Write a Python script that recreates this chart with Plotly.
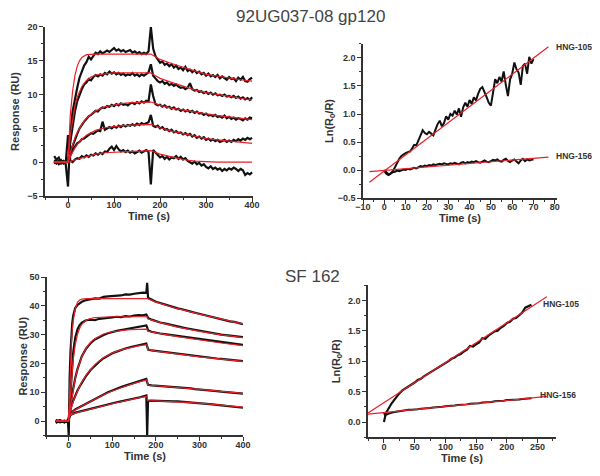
import plotly.graph_objects as go

# ---------------- Top-left: 92UG037-08 gp120 sensorgrams ----------------
T_TL = list(range(-30, 401, 5))
TL_A = [0.9, 0.4, 0.7, -0.1, 0.1, -0.3,
        -3.6,
        4.0, 7.5, 9.5, 11.0, 12.5, 13.5, 14.3, 14.8, 15.6, 15.2, 15.8, 16.2, 16.0, 16.4, 16.1, 16.3, 16.5, 16.3,
        16.6, 16.9, 16.5, 16.7, 16.4, 16.6, 16.3, 16.5, 16.6, 16.2, 16.4, 16.1, 16.3, 16.0, 16.2, 16.0, 16.4, 20.0,
        16.8, 15.7, 15.1, 14.7, 14.9, 14.4, 14.6, 14.2, 14.5, 14.0, 14.3, 13.8, 14.0, 13.6, 14.1, 13.5, 13.7, 13.3,
        13.6, 13.2, 13.4, 13.0, 13.2, 12.8, 13.1, 12.7, 12.9, 12.6, 12.9, 12.4, 12.7, 12.5, 12.2, 12.6, 12.3, 12.4,
        12.0, 12.5, 12.2, 12.6, 12.0, 11.9, 12.3, 12.5]
TL_B = [0.3, 0.0, 0.2, -0.2, 0.1, 0.0,
        0.0,
        3.0, 5.5, 7.5, 9.0, 10.0, 10.8, 11.5, 11.8, 12.3, 12.1, 12.6, 12.9, 12.7, 13.0, 12.8, 13.2, 13.0, 13.4,
        13.1, 13.3, 13.0, 13.2, 12.9, 13.1, 12.8, 13.0, 12.9, 13.2, 12.8, 13.0, 12.7, 13.0, 12.8, 13.1, 13.3, 14.5,
        12.8, 12.4, 12.0, 11.8, 12.0, 11.6, 11.8, 11.4, 11.6, 11.3, 11.5, 11.2, 11.0, 11.1, 10.8, 11.0, 11.7, 10.8,
        10.6, 10.7, 10.4, 10.5, 10.2, 10.4, 10.1, 10.3, 10.0, 10.2, 9.9, 10.0, 9.8, 10.0, 9.7, 9.8, 9.6, 9.8,
        9.5, 9.7, 9.4, 9.6, 9.3, 9.5, 9.2, 9.6]
TL_C = [-0.2, 0.1, -0.1, 0.2, -0.1, 0.1,
        0.2,
        1.5, 2.5, 3.5, 4.2, 5.0, 5.6, 6.0, 6.4, 6.8, 7.0, 7.3, 7.6, 7.5, 7.9, 8.1, 8.0, 8.3, 8.2,
        8.5, 8.3, 8.6, 8.4, 8.7, 8.5, 8.6, 8.4, 8.7, 8.8, 8.6, 8.9, 8.7, 9.0, 8.8, 9.1, 9.0, 11.5,
        9.8, 8.6, 8.4, 8.5, 8.2, 8.4, 8.1, 8.2, 7.9, 8.1, 7.8, 7.9, 7.6, 7.8, 7.5, 7.7, 7.4, 7.6,
        7.3, 7.5, 7.2, 7.3, 7.0, 7.2, 6.9, 7.0, 6.8, 7.0, 6.7, 6.8, 6.6, 6.9, 6.5, 6.7, 6.4, 6.6,
        6.3, 6.5, 6.4, 6.2, 6.5, 6.3, 6.6, 6.5]
TL_D = [0.1, -0.2, 0.0, 0.3, -0.2, 0.0,
        0.5,
        1.0, 1.8, 2.3, 2.8, 3.0, 3.4, 3.5, 3.8, 4.0, 4.3, 4.2, 4.5, 4.7, 4.6, 6.0, 4.8, 5.0, 5.2,
        5.0, 5.3, 5.1, 5.4, 5.2, 5.5, 5.3, 5.5, 5.4, 5.6, 5.4, 5.7, 5.5, 5.8, 5.6, 5.7, 5.9, 7.0,
        5.4, 5.2, 5.4, 5.0, 5.2, 4.8, 4.9, 4.6, 4.8, 4.4, 4.6, 4.3, 4.4, 4.1, 4.3, 4.0, 4.2, 3.8,
        4.0, 3.6, 3.8, 3.5, 3.7, 3.3, 3.5, 3.2, 3.4, 3.1, 3.3, 3.0, 3.2, 3.3, 3.0, 3.2, 3.0, 3.3,
        3.1, 3.4, 3.2, 3.5, 3.3, 3.6, 3.4, 3.6]
TL_E = [0.0, 0.2, -0.3, 0.0, 0.2, -0.1,
        4.0,
        0.2, 0.0, 0.4, 0.6, 0.5, 0.9, 0.7, 1.0, 0.8, 1.1, 1.0, 1.3, 1.1, 1.4, 1.2, 1.6, 1.5, 2.0,
        2.3, 1.8, 2.4, 1.9, 1.6, 1.8, 1.5, 1.7, 1.4, 1.6, 1.3, 1.5, 1.7, 1.4, 1.6, 1.8, 1.5, -3.3,
        1.8, 1.4, 1.0, 0.7, 0.9, 0.5, 0.8, 0.4, 0.7, 0.6, 0.9, 0.5, 0.8, 0.4, 0.6, 0.2, 0.0, -0.2,
        0.1, -0.3, -0.1, -0.5, -0.3, -0.7, -0.9, -0.6, -1.0, -0.8, -1.1, -0.9, -1.3, -1.0, -1.2, -0.9,
        -1.1, -0.8, -1.0, -1.3, -1.0, -1.2, -1.9, -1.6, -1.8, -1.5]

T_TL_FIT = [-30, 0, 5, 10, 15, 20, 25, 30, 40, 50, 60, 80, 100, 120, 140, 160, 180,
            190, 200, 225, 250, 275, 300, 325, 350, 375, 400]
FIT_A = [0, 0, 7.0, 10.5, 12.8, 14.2, 15.0, 15.5, 15.9, 16.0, 16.0, 16.0, 16.0, 16.0, 16.0, 16.0, 16.0,
         15.6, 15.2, 14.6, 14.0, 13.5, 13.0, 12.7, 12.4, 12.2, 12.0]
FIT_B = [0, 0, 4.0, 6.5, 8.3, 9.6, 10.5, 11.2, 12.1, 12.6, 12.9, 13.1, 13.2, 13.2, 13.2, 13.2, 13.2,
         12.8, 12.4, 11.8, 11.2, 10.7, 10.3, 10.0, 9.7, 9.4, 9.2]
FIT_C = [0, 0, 1.4, 2.6, 3.6, 4.4, 5.1, 5.6, 6.5, 7.1, 7.6, 8.2, 8.5, 8.7, 8.8, 8.9, 8.9,
         8.7, 8.4, 8.0, 7.7, 7.4, 7.1, 6.9, 6.7, 6.5, 6.3]
FIT_D = [0, 0, 0.8, 1.5, 2.1, 2.6, 3.0, 3.4, 4.0, 4.4, 4.7, 5.1, 5.3, 5.4, 5.5, 5.6, 5.6,
         5.4, 5.1, 4.6, 4.2, 3.8, 3.5, 3.3, 3.1, 2.9, 2.8]
FIT_E = [0, 0, 0.1, 0.25, 0.35, 0.5, 0.6, 0.7, 0.9, 1.05, 1.2, 1.4, 1.5, 1.55, 1.6, 1.65, 1.7,
         1.45, 1.2, 0.8, 0.4, 0.15, 0.02, 0.0, 0.0, 0.0, 0.0]

# ---------------- Top-right: Ln(R0/R) for 92UG037-08 ----------------
T_TR = list(range(0, 71))
TR_105 = [0.0, -0.05, -0.08, -0.06, -0.02, 0.05, 0.14, 0.2, 0.25, 0.28, 0.3, 0.32, 0.33, 0.38, 0.45, 0.44,
          0.55, 0.62, 0.71, 0.66, 0.64, 0.68, 0.65, 0.62, 0.72, 0.82, 0.88, 0.78, 0.84, 0.96, 0.9, 1.0,
          0.97, 1.06, 0.99, 1.1, 0.95, 1.12, 1.2, 1.13, 1.25, 1.18, 1.3, 1.24, 1.36, 1.45, 1.48, 1.4,
          1.3, 1.2, 1.15, 1.38, 1.62, 1.55, 1.66, 1.58, 1.76, 1.52, 1.32, 1.62, 1.72, 1.92, 1.8, 1.74,
          1.52, 1.86, 1.9, 1.72, 2.02, 1.9, 1.98]
TR_156 = [-0.02, -0.07, -0.09, -0.06, -0.04, -0.03, -0.01, -0.02, 0.0, 0.01, 0.0, 0.02, 0.01, 0.03, 0.04,
          0.03, 0.05, 0.07, 0.06, 0.08, 0.07, 0.09, 0.08, 0.1, 0.09, 0.1, 0.11, 0.1, 0.12, 0.11, 0.1, 0.12,
          0.11, 0.13, 0.12, 0.1, 0.13, 0.14, 0.12, 0.14, 0.13, 0.15, 0.14, 0.16, 0.14, 0.13, 0.15, 0.17,
          0.15, 0.14, 0.16, 0.18, 0.17, 0.19, 0.16, 0.15, 0.18, 0.2, 0.16, 0.14, 0.17, 0.19, 0.15, 0.12,
          0.17, 0.2, 0.16, 0.19, 0.17, 0.18, 0.19]
TR_FIT_T = [-7, 77]
TR_FIT_105 = [-0.22, 2.2]
TR_FIT_156 = [-0.03, 0.23]

# ---------------- Bottom-left: SF 162 sensorgrams ----------------
T_BL = [-30, -20, -10, -2, 0, 1, 2, 4, 6, 8, 10, 12, 15, 20, 25, 30,
        40, 50, 60, 70, 80, 90, 100, 110, 120, 130, 140, 150, 160, 170,
        178, 180, 182,
        190, 200, 210, 220, 230, 240, 250, 260, 270, 280, 290, 300, 310, 320, 330, 340, 350, 360, 370,
        380, 390, 400]
BL_1 = [-0.3, 0.2, -0.4, 0.0, -5.0, 8, 15, 24, 30, 34, 36.5, 38, 39.3, 40.3, 41.0, 41.4,
        42.0, 42.2, 42.6, 42.5, 43.1, 43.3, 43.4, 43.7, 43.6, 44.0, 43.9, 44.2, 44.4, 44.6,
        44.5, 48.0, 42.8,
        42.2, 41.4, 41.0, 40.5, 40.0, 39.6, 39.1, 38.8, 38.3, 38.0, 37.6, 37.2, 36.9, 36.4, 36.1, 35.7,
        35.4, 35.0, 34.6, 34.4, 34.0, 33.6]
BL_2 = [0.3, -0.2, 0.1, -0.3, 0.5, 3, 6, 11, 16, 20, 23.5, 26, 29, 31.8, 33.3, 34.2,
        35.0, 35.2, 35.0, 35.5, 35.6, 35.9, 36.0, 36.2, 36.1, 36.4, 36.3, 36.6, 36.8, 36.7,
        37.0, 36.5, 35.8,
        35.2, 34.6, 34.2, 33.9, 33.5, 33.2, 32.8, 32.5, 32.2, 31.9, 31.6, 31.3, 31.0, 30.8, 30.5, 30.3,
        30.0, 29.8, 29.6, 29.4, 29.2, 29.1]
BL_3 = [-0.5, 0.0, -0.3, 0.2, 0.3, 2, 3.5, 5.5, 7.5, 9.5, 11.5, 13, 15, 18, 20.5, 22.5,
        25.2, 27.0, 28.3, 29.2, 29.9, 30.5, 31.0, 31.3, 31.6, 31.9, 32.1, 32.4, 32.6, 33.0,
        33.2, 32.5, 31.5,
        31.0, 30.6, 30.4, 30.2, 30.0, 29.8, 29.6, 29.3, 29.1, 28.9, 28.7, 28.5, 28.3, 28.0, 27.8, 27.6,
        27.4, 27.2, 27.0, 26.8, 26.6, 26.4]
BL_4 = [0.2, -0.5, 0.0, -0.4, 1.0, 2, 3, 4.2, 5.3, 6.2, 7.0, 7.8, 8.9, 10.6, 12.0, 13.4,
        15.7, 17.7, 19.3, 20.6, 21.8, 22.7, 23.5, 24.1, 24.7, 25.2, 25.6, 25.9, 26.3, 26.6,
        26.9, 26.0, 24.8,
        24.5, 24.3, 24.2, 24.0, 23.8, 23.6, 23.4, 23.2, 23.1, 22.8, 22.7, 22.4, 22.3, 22.1, 21.9, 21.7,
        21.6, 21.4, 21.2, 21.1, 20.9, 20.8]
BL_5 = [-0.2, 0.3, -0.5, 0.1, 0.5, 1.5, 2.0, 2.6, 3.0, 3.3, 3.5, 3.7, 4.0, 4.4, 4.8, 5.2,
        6.0, 6.9, 7.7, 8.6, 9.3, 10.0, 10.6, 11.3, 11.8, 12.3, 12.8, 13.2, 13.7, 14.1,
        14.6, 13.5, 12.6,
        12.4, 12.3, 12.2, 12.1, 11.9, 11.9, 11.7, 11.6, 11.4, 11.3, 11.1, 11.0, 10.8, 10.7, 10.5, 10.4,
        10.2, 10.1, 9.9, 9.8, 9.6, 9.5]
BL_6 = [-0.6, -0.1, -0.4, -0.2, 0.0, 1.2, 1.6, 2.0, 2.3, 2.5, 2.6, 2.8, 2.9, 3.1, 3.3, 3.5,
        3.9, 4.3, 4.7, 5.1, 5.5, 5.8, 6.2, 6.5, 6.8, 7.2, 7.5, 7.8, 8.1, 8.5,
        8.9, -5.0, 7.0,
        7.1, 7.0, 7.0, 6.9, 6.9, 6.8, 6.8, 6.7, 6.6, 6.5, 6.4, 6.3, 6.1, 6.0, 5.8, 5.6,
        5.4, 5.3, 5.1, 4.9, 4.8, 4.6]

T_BL_FIT = [-30, -0.5, 0, 2, 4, 6, 8, 10, 15, 20, 25, 30, 40, 50, 60, 80, 100, 120, 140, 160, 180,
            181, 200, 250, 300, 350, 400]
FIT_1 = [0, 0, 1.5, 12, 20, 27, 31.5, 34.5, 39, 41.2, 42.0, 42.3, 42.5, 42.5, 42.5, 42.5, 42.5, 42.5,
         42.5, 42.5, 42.5, 42.5, 41.3, 39.0, 37.1, 35.3, 33.7]
FIT_2 = [0, 0, 1.5, 6, 10.5, 14.5, 18, 21, 26.5, 30, 32.2, 33.6, 35.0, 35.6, 35.9, 36.1, 36.2, 36.2,
         36.2, 36.2, 36.2, 35.5, 34.6, 32.6, 31.1, 29.9, 29.0]
FIT_3 = [0, 0, 1.5, 3.5, 5.5, 7.5, 9.3, 11, 14.8, 17.9, 20.4, 22.4, 25.3, 27.3, 28.6, 30.2, 31.0, 31.4,
         31.7, 31.8, 31.9, 31.2, 30.6, 29.3, 28.1, 27.1, 26.2]
FIT_4 = [0, 0, 1.5, 2.6, 3.7, 4.7, 5.7, 6.6, 8.7, 10.5, 12.1, 13.6, 16.0, 18.0, 19.6, 22.0, 23.6, 24.7,
         25.5, 26.1, 26.5, 24.8, 24.3, 23.2, 22.3, 21.5, 20.7]
FIT_5 = [0, 0, 1.5, 2.0, 2.4, 2.8, 3.1, 3.4, 3.9, 4.4, 4.8, 5.2, 6.0, 6.8, 7.6, 9.1, 10.4, 11.6,
         12.6, 13.5, 14.3, 12.5, 12.3, 11.7, 11.0, 10.3, 9.6]
FIT_6 = [0, 0, 1.5, 1.8, 2.0, 2.2, 2.4, 2.5, 2.8, 3.0, 3.2, 3.4, 3.8, 4.2, 4.6, 5.3, 6.0, 6.7,
         7.4, 8.0, 8.5, 7.1, 7.0, 6.7, 6.2, 5.5, 4.8]

# ---------------- Bottom-right: Ln(R0/R) for SF 162 ----------------
T_BR = [0, 1, 2, 3, 4, 6, 8, 10, 12, 15] + list(range(20, 241, 5))
BR_105 = [0.0, 0.07, 0.11, 0.14, 0.16, 0.2, 0.23, 0.27, 0.3, 0.34,
          0.41, 0.47, 0.52, 0.55, 0.59, 0.62, 0.65, 0.69, 0.71, 0.75, 0.78, 0.81, 0.85, 0.87, 0.91,
          0.94, 0.97, 1.0, 1.04, 1.06, 1.1, 1.12, 1.16, 1.19, 1.25, 1.24, 1.28, 1.31, 1.38, 1.37,
          1.42, 1.45, 1.49, 1.5, 1.55, 1.58, 1.63, 1.65, 1.7, 1.71, 1.76, 1.8, 1.88, 1.9, 1.93]
BR_156 = [0.15, 0.12, 0.11, 0.12, 0.12, 0.13, 0.14, 0.15, 0.15, 0.16,
          0.17, 0.18, 0.18, 0.19, 0.2, 0.2, 0.2, 0.21, 0.22, 0.22, 0.22, 0.23, 0.24, 0.24, 0.24,
          0.25, 0.26, 0.26, 0.26, 0.27, 0.28, 0.28, 0.28, 0.29, 0.3, 0.3, 0.3, 0.31, 0.32, 0.32,
          0.32, 0.33, 0.34, 0.34, 0.34, 0.35, 0.36, 0.36, 0.36, 0.37, 0.37, 0.38, 0.38, 0.39, 0.39]
BR_FIT_T = [-26, 265]
BR_FIT_105 = [0.15, 2.06]
BR_FIT_156 = [0.13, 0.42]

# ---------------- styling ----------------
BLACK = '#111111'
RED = 'rgb(232,32,40)'
AX = '#333333'
FONT = 'Arial'

fig = go.Figure()

def black(x, y, xa, ya, w=2.0):
    fig.add_trace(go.Scatter(x=x, y=y, mode='lines', line=dict(color=BLACK, width=w),
                             xaxis=xa, yaxis=ya, showlegend=False, hoverinfo='skip'))

def red(x, y, xa, ya, w=1.2):
    fig.add_trace(go.Scatter(x=x, y=y, mode='lines', line=dict(color=RED, width=w),
                             xaxis=xa, yaxis=ya, showlegend=False, hoverinfo='skip'))

for s in [TL_A, TL_B, TL_C, TL_D, TL_E]:
    black(T_TL, s, 'x', 'y', 2.2)
for s in [FIT_A, FIT_B, FIT_C, FIT_D, FIT_E]:
    red(T_TL_FIT, s, 'x', 'y')

black(T_TR, TR_105, 'x2', 'y2', 2.0)
black(T_TR, TR_156, 'x2', 'y2', 2.0)
red(TR_FIT_T, TR_FIT_105, 'x2', 'y2')
red(TR_FIT_T, TR_FIT_156, 'x2', 'y2')

for s in [BL_1, BL_2, BL_3, BL_4, BL_5, BL_6]:
    black(T_BL, s, 'x3', 'y3', 2.2)
for s in [FIT_1, FIT_2, FIT_3, FIT_4, FIT_5, FIT_6]:
    red(T_BL_FIT, s, 'x3', 'y3')

black(T_BR, BR_105, 'x4', 'y4', 2.2)
black(T_BR, BR_156, 'x4', 'y4', 2.0)
red(BR_FIT_T, BR_FIT_105, 'x4', 'y4')
red(BR_FIT_T, BR_FIT_156, 'x4', 'y4')


def ax(domain, rng, dtick, minor, anchor, title, standoff, tick0=0, fmt=None, lstand=0):
    d = dict(domain=domain, range=rng, dtick=dtick, tick0=tick0, anchor=anchor,
             automargin=False,
             showline=True, linecolor=AX, linewidth=1.5, mirror=False,
             ticks='outside', ticklen=4, tickwidth=1.3, tickcolor=AX,
             ticklabelstandoff=lstand,
             showgrid=False, zeroline=False,
             tickfont=dict(family=FONT, size=9, color=AX, weight='bold'),
             minor=dict(ticks='outside', ticklen=2, tickwidth=1, tickcolor=AX, dtick=minor,
                        tick0=tick0, showgrid=False),
             title=dict(text=title, standoff=standoff,
                        font=dict(family=FONT, size=11, color=AX, weight='bold')))
    if fmt:
        d['tickformat'] = fmt
    return d

fig.update_layout(
    width=600, height=476,
    margin=dict(l=0, r=0, t=0, b=0),
    paper_bgcolor='white', plot_bgcolor='white',
    xaxis=ax([0.075, 0.4217], [-50, 402], 100, 50, 'y', 'Time (s)', 0, lstand=-5),
    yaxis=ax([0.5882, 0.9433], [-5, 20], 5, 2.5, 'x', 'Response (RU)', 5),
    xaxis2=ax([0.605, 0.9283], [-10, 81], 10, 5, 'y2', 'Time (s)', 0, lstand=-5),
    yaxis2=ax([0.584, 0.9076], [-0.5, 2.25], 0.5, 0.25, 'x2', 'Ln(R<sub>0</sub>/R)', 2, tick0=-0.5, fmt='.1f'),
    xaxis3=ax([0.0783, 0.405], [-50, 400], 100, 50, 'y3', 'Time (s)', 0, lstand=-4),
    yaxis3=ax([0.0853, 0.418], [-5, 50], 10, 5, 'x3', 'Response (RU)', 0),
    xaxis4=ax([0.6133, 0.9267], [-26, 280], 50, 25, 'y4', 'Time (s)', 0, lstand=-4),
    yaxis4=ax([0.0815, 0.4008], [-0.25, 2.25], 0.5, 0.25, 'x4', 'Ln(R<sub>0</sub>/R)', 5, fmt='.1f'),
)

ann_font = dict(family=FONT, size=8.5, color=AX, weight='bold')
fig.add_annotation(x=0.518, y=0.966, xref='paper', yref='paper', text='92UG037-08 gp120',
                   xanchor='center', yanchor='middle',
                   showarrow=False, font=dict(family=FONT, size=17, color='#444444'))
fig.add_annotation(x=0.52, y=0.42, xref='paper', yref='paper', text='SF 162',
                   xanchor='center', yanchor='middle',
                   showarrow=False, font=dict(family=FONT, size=17, color='#444444'))
fig.add_annotation(x=79.5, y=2.2, xref='x2', yref='y2', text='HNG-105', xanchor='left',
                   showarrow=False, font=ann_font)
fig.add_annotation(x=79.5, y=0.25, xref='x2', yref='y2', text='HNG-156', xanchor='left',
                   showarrow=False, font=ann_font)
fig.add_annotation(x=256, y=1.94, xref='x4', yref='y4', text='HNG-105', xanchor='left',
                   showarrow=False, font=ann_font)
fig.add_annotation(x=251, y=0.44, xref='x4', yref='y4', text='HNG-156', xanchor='left',
                   showarrow=False, font=ann_font)

fig.write_html('out.html', config={'displayModeBar': False},
               post_script="document.body.style.margin='0';document.body.style.overflow='hidden';")
